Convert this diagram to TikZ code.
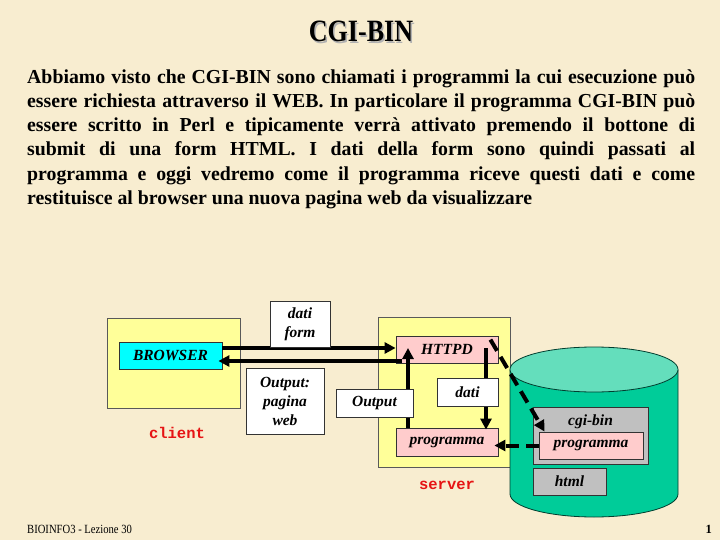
\documentclass[tikz,border=0pt]{standalone}
\usepackage{fontspec}
\setmainfont{Liberation Serif}
\setmonofont{Liberation Mono}
\usetikzlibrary{arrows.meta}
\definecolor{paper}{RGB}{248,237,208}
\definecolor{boxyellow}{RGB}{255,255,153}
\definecolor{boxcyan}{RGB}{0,255,255}
\definecolor{boxpink}{RGB}{255,204,204}
\definecolor{boxgray}{RGB}{192,192,192}
\definecolor{cylbody}{RGB}{0,204,153}
\definecolor{cyltop}{RGB}{100,222,188}
\definecolor{lblred}{RGB}{230,20,20}
\newcommand{\lblfont}{\fontsize{15.5}{19}\selectfont\bfseries\itshape}
\newcommand{\bodyfont}{\fontsize{19.8}{24}\selectfont\bfseries}
\newcommand{\bodyline}[1]{\makebox[668pt][s]{#1}}
\newcommand{\titletext}{\scalebox{0.84}[1]{\fontsize{31}{31}\selectfont\bfseries CGI-BIN}}
\tikzset{
  box/.style={draw=black!80, line width=0.8pt, inner sep=0pt, align=center, font=\lblfont},
  area/.style={draw=black!65, line width=0.8pt, fill=boxyellow, inner sep=0pt},
  arr/.style={line width=4pt, -{Triangle[length=11pt,width=11pt]}},
  dasharr/.style={arr, dash pattern=on 13pt off 7pt},
  bodytxt/.style={anchor=base west, inner sep=0pt, font=\bodyfont},
  tag/.style={font=\fontsize{15.5}{17}\selectfont\ttfamily\bfseries, text=lblred, inner sep=0pt}
}
\begin{document}
\begin{tikzpicture}[x=1pt,y=-1pt]
\useasboundingbox (0,0) rectangle (720,540);
\fill[paper] (0,0) rectangle (720,540);
% title with soft shadow
\node[anchor=base, inner sep=0pt, text=black!30] (titleshadow) at (362.5,43.5) {\titletext};
\node[anchor=base, inner sep=0pt] (title) at (361,42) {\titletext};
% body
\node[bodytxt] (b1) at (27,83.3) {\bodyline{Abbiamo visto che CGI-BIN sono chiamati i programmi la cui esecuzione può}};
\node[bodytxt] (b2) at (27,107.5) {\bodyline{essere richiesta attraverso il WEB. In particolare il programma CGI-BIN può}};
\node[bodytxt] (b3) at (27,131.7) {\bodyline{essere scritto in Perl e tipicamente verrà attivato premendo il bottone di}};
\node[bodytxt] (b4) at (27,155.9) {\bodyline{submit di una form HTML. I dati della form sono quindi passati al}};
\node[bodytxt] (b5) at (27,180.1) {\bodyline{programma e oggi vedremo come il programma riceve questi dati e come}};
\node[bodytxt] (b6) at (27,204.3) {restituisce al browser una nuova pagina web da visualizzare};
% client / server areas
\node[area, minimum width=133pt, minimum height=90pt] (client) at (173.5,363) {};
\node[area, minimum width=132pt, minimum height=150pt] (server) at (444,392) {};
% cylinder
\draw[draw=black!70!cylbody, line width=0.8pt, fill=cylbody] (510,369.5) -- (510,494) arc[start angle=180, end angle=360, x radius=84pt, y radius=23pt] -- (678,369.5);
\draw[draw=black!70!cylbody, line width=0.8pt, fill=cyltop] (594,369.5) ellipse[x radius=84pt, y radius=22.5pt];
\node[box, fill=boxgray, minimum width=115pt, minimum height=57pt] (cgibin) at (590.5,435.5) {};
\node[box, fill=none, draw=none, anchor=base] (cgilbl) at (590.5,425) {cgi-bin};
\node[box, fill=boxpink, minimum width=104pt, minimum height=27pt] (cprog) at (591,445.5) {programma};
\node[box, fill=boxgray, minimum width=73pt, minimum height=27pt] (html) at (569.5,481.5) {html};
% inner boxes
\node[box, fill=boxcyan, minimum width=103pt, minimum height=27pt] (browser) at (170.5,355.5) {BROWSER};
\node[box, fill=boxpink, minimum width=102pt, minimum height=27pt] (httpd) at (447,349.5) {HTTPD};
\node[box, fill=boxpink, minimum width=102pt, minimum height=28pt] (prog) at (447,442) {programma};
% arrows
\draw[arr] ([yshift=7.5pt]browser.east) -- ([yshift=1.5pt]httpd.west);
\draw[arr] ([xshift=6pt,yshift=-11.5pt]httpd.west) -- ([xshift=-4pt,yshift=-5.5pt]browser.east);
\draw[arr] ([xshift=-39pt]prog.north) -- ([xshift=-39pt,yshift=1.5pt]httpd.center);
\draw[arr] ([xshift=39pt,yshift=1.5pt]httpd.center) -- ([xshift=39pt,yshift=-2pt]prog.north);
\draw[dasharr] ([xshift=-8pt,yshift=-4pt]httpd.north east) -- ([xshift=6pt]cprog.north west);
\draw[dasharr] (cprog.west) -- ([xshift=-4pt]cprog.west -| prog.east);
% white label boxes
\node[box, fill=white, minimum width=60pt, minimum height=46pt] (datiform) at (300,324) {dati\\form};
\node[box, fill=white, minimum width=78pt, minimum height=66pt] (outpag) at (285,401) {Output:\\pagina\\web};
\node[box, fill=white, minimum width=77pt, minimum height=28pt] (output) at (374.5,403) {Output};
\node[box, fill=white, minimum width=61pt, minimum height=28pt] (dati) at (467.5,392) {dati};
% area labels
\node[tag] (clientlbl) at (177,433) {client};
\node[tag] (serverlbl) at (447,485) {server};
% footer
\node[anchor=base west, inner sep=0pt] (foot) at (27,533) {\scalebox{0.85}[1]{\fontsize{12.5}{14}\selectfont BIOINFO3 - Lezione 30}};
\node[anchor=base east, inner sep=0pt] (pagenum) at (712,533) {\fontsize{12.5}{14}\selectfont\bfseries 1};
\end{tikzpicture}
\end{document}
